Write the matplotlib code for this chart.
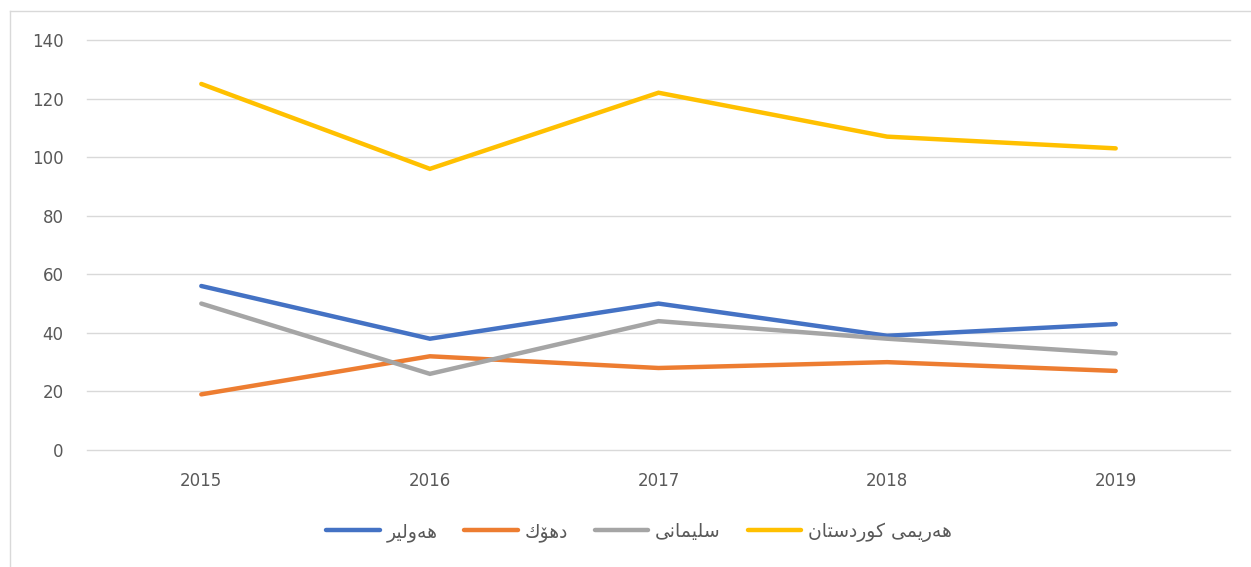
import matplotlib
matplotlib.use("Agg")
import matplotlib.pyplot as plt
from matplotlib.lines import Line2D
from matplotlib import font_manager
from matplotlib.ft2font import FT2Font

years = ["2015", "2016", "2017", "2018", "2019"]
series_names = ["هەولێر", "دهۆك", "سلێمانی", "هەرێمی کوردستان"]
erbil = [56, 38, 50, 39, 43]
duhok = [19, 32, 28, 30, 27]
sulaymaniyah = [50, 26, 44, 38, 33]
kurdistan = [125, 96, 122, 107, 103]
y_ticks = [0, 20, 40, 60, 80, 100, 120, 140]

colors = ["#4472C4", "#ED7D31", "#A5A5A5", "#FFC000"]

# --- simple Arabic-script shaping (matplotlib has no complex text layout) ---
_path = font_manager.findfont("DejaVu Sans")
_cmap = FT2Font(_path).get_charmap()

def _has(ch):
    return ord(ch) in _cmap

FORMS = {
    '\u0647': ('\uFEE9', '\uFEEA', '\uFEEB', '\uFEEC'),
    '\u06D5': ('\u06D5', '\uFEEA', None, None),
    '\u0648': ('\uFEED', '\uFEEE', None, None),
    '\u0644': ('\uFEDD', '\uFEDE', '\uFEDF', '\uFEE0'),
    '\u06CE': ('\uFBFC', '\uFBFD', '\uFBFE', '\uFBFF'),
    '\u0631': ('\uFEAD', '\uFEAE', None, None),
    '\u062F': ('\uFEA9', '\uFEAA', None, None),
    '\u06C6': ('\uFBD9', '\uFBDA', None, None),
    '\u0643': ('\uFED9', '\uFEDA', '\uFEDB', '\uFEDC'),
    '\u0633': ('\uFEB1', '\uFEB2', '\uFEB3', '\uFEB4'),
    '\u0645': ('\uFEE1', '\uFEE2', '\uFEE3', '\uFEE4'),
    '\u0627': ('\uFE8D', '\uFE8E', None, None),
    '\u0646': ('\uFEE5', '\uFEE6', '\uFEE7', '\uFEE8'),
    '\u06CC': ('\uFBFC', '\uFBFD', '\uFBFE', '\uFBFF'),
    '\u062A': ('\uFE95', '\uFE96', '\uFE97', '\uFE98'),
    '\u06A9': ('\uFB8E', '\uFB8F', '\uFB90', '\uFB91'),
}

def _dual(ch):
    f = FORMS.get(ch)
    return f is not None and f[2] is not None

def _joining(ch):
    return ch in FORMS

def shape(text):
    clusters = []
    n = len(text)
    for i, ch in enumerate(text):
        if ch not in FORMS:
            clusters.append(ch)
            continue
        prev = text[i - 1] if i > 0 else ''
        nxt = text[i + 1] if i + 1 < n else ''
        jp = _dual(prev)
        jn = _dual(ch) and _joining(nxt)
        iso, fin, ini, med = FORMS[ch]
        if jp and jn:
            g = med
        elif jp:
            g = fin
        elif jn:
            g = ini
        else:
            g = iso
        if g is None or not _has(g):
            g = ch
        clusters.append(g)
    return ''.join(reversed(clusters))

plt.rcParams['font.family'] = ['DejaVu Sans']

fig = plt.figure(figsize=(12.51, 5.67), dpi=100)
ax = fig.add_axes([87 / 1251, 1 - 450 / 567, (1230 - 87) / 1251, 410 / 567])

x = list(range(len(years)))
for vals, c, name in zip([erbil, duhok, sulaymaniyah, kurdistan], colors, series_names):
    ax.plot(x, vals, color=c, lw=3.2, solid_capstyle='round', solid_joinstyle='miter',
            label=shape(name), zorder=3)

ax.set_xlim(-0.5, len(years) - 0.5)
ax.set_ylim(0, 140)
ax.set_yticks(y_ticks)
ax.set_xticks(x)
ax.set_xticklabels(years)
for yv in y_ticks:
    ax.axhline(yv, color='#D9D9D9', lw=1.0, zorder=1, clip_on=False)
for s in ax.spines.values():
    s.set_visible(False)
ax.tick_params(axis='both', length=0, labelsize=12, labelcolor='#595959')
ax.tick_params(axis='y', pad=17)
ax.tick_params(axis='x', pad=16)

handles = [Line2D([0], [0], color=c, lw=3.2, solid_capstyle='round') for c in colors]
fig.legend(handles, [shape(n) for n in series_names], loc='center',
           bbox_to_anchor=(639 / 1251, 1 - 532 / 567), ncol=4, frameon=False,
           fontsize=13.5, handlelength=2.85, handletextpad=0.35, columnspacing=1.45,
           labelcolor='#595959')

# chart frame (left and top edges visible)
fig.add_artist(Line2D([10 / 1251, 10 / 1251], [0, 1 - 11 / 567], color='#D9D9D9', lw=1.0))
fig.add_artist(Line2D([10 / 1251, 1], [1 - 11 / 567, 1 - 11 / 567], color='#D9D9D9', lw=1.0))

fig.savefig("out.png", dpi=100, facecolor='white')
